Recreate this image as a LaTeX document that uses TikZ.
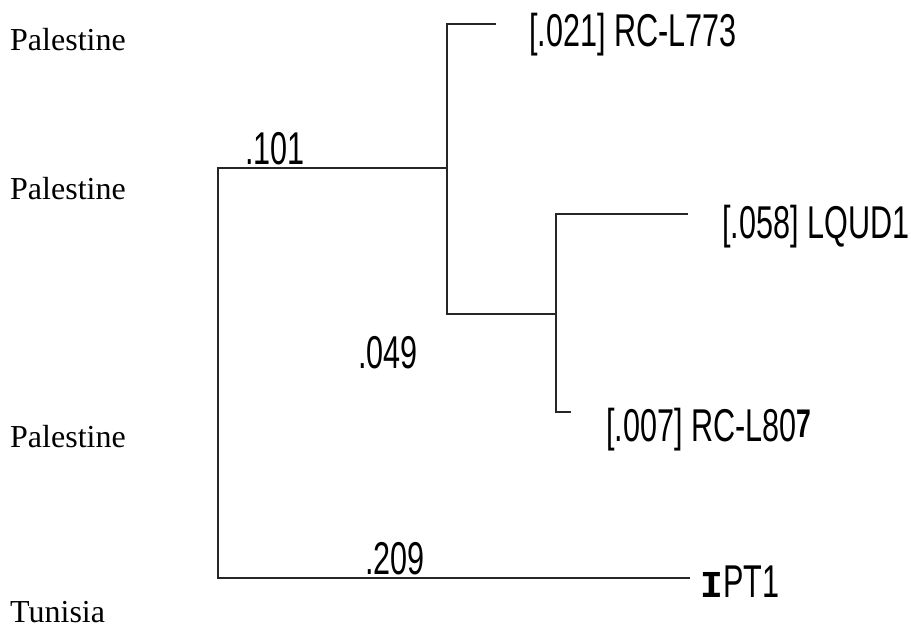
\documentclass[tikz,border=0pt]{standalone}
\usepackage{fontspec}
\setmainfont{Liberation Serif}
\newfontfamily\narrow[FakeStretch=0.665]{Liberation Sans}
\newfontfamily\monob{Liberation Mono}
\begin{document}
\begin{tikzpicture}[x=1pt,y=-1pt,
  branch/.style={line width=1.3pt, black!85},
  lab/.style={anchor=base west, inner sep=0pt, font=\narrow\fontsize{46}{46}\selectfont},
  place/.style={anchor=base west, inner sep=0pt, font=\fontsize{32}{32}\selectfont}]
\useasboundingbox (0,0) rectangle (911,633);
\coordinate (r) at (218,168);
\coordinate (rb) at (218,578);
\coordinate (a) at (447,168);
\coordinate (at) at (447,24);
\coordinate (ab) at (447,314);
\coordinate (b) at (556,314);
\coordinate (bt) at (556,214);
\coordinate (bb) at (556,412);
\coordinate (e1) at (496,24);
\coordinate (e2) at (688,214);
\coordinate (e3) at (571,412);
\coordinate (e4) at (690,578);
\draw[branch] (a) -- (r) -- (rb) -- (e4);
\draw[branch] (e1) -- (at) -- (ab) -- (b);
\draw[branch] (e2) -- (bt) -- (bb) -- (e3);
\node[lab] (l1) at (529,46) {[.021] RC-L773};
\node[lab] (l2) at (722,238) {[.058] LQUD1};
\node[lab] (l3) at (606,441) {[.007] RC-L80\raisebox{4pt}{\bfseries\fontsize{40}{40}\selectfont 7}};
\node[lab] (l4) at (700,597) {{\monob\bfseries\fontsize{38}{38}\selectfont I}PT1};
\node[lab] (n1) at (245,164) {.101};
\node[lab] (n2) at (358,368) {.049};
\node[lab] (n3) at (365,574) {.209};
\node[place] (p1) at (10,50) {Palestine};
\node[place] (p2) at (10,199) {Palestine};
\node[place] (p3) at (10,447) {Palestine};
\node[place] (p4) at (10,622) {Tunisia};
\end{tikzpicture}
\end{document}
